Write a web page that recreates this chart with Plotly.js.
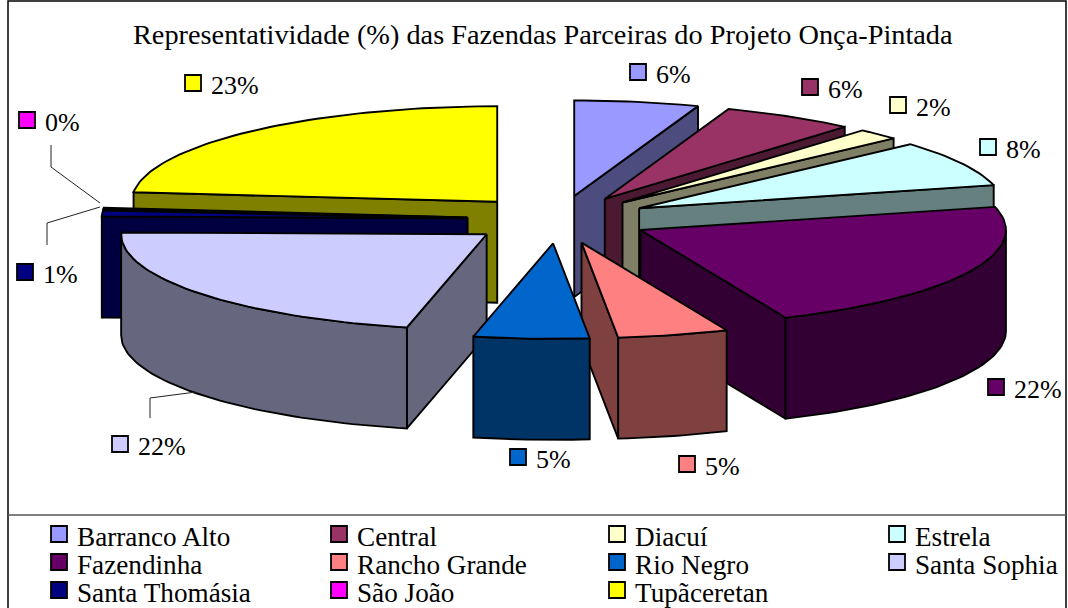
<!DOCTYPE html>
<html><head><meta charset="utf-8">
<script src="https://cdn.plot.ly/plotly-3.0.1.min.js"></script>
<style>html,body{margin:0;padding:0;background:#fff;overflow:hidden}</style>
</head><body><div id="chart" style="width:1068px;height:608px"></div>
<script>
// ---- data ----
const categories = ['Barranco Alto','Central','Diacuí','Estrela','Fazendinha','Rancho Grande','Rio Negro','Santa Sophia','Santa Thomásia','São João','Tupãceretan'];
const shares = [5.5,5.9,1.9,7.8,22.4,4.9,5.1,21.8,1.0,0.3,23.4];
const colors = ['#9999FF','#993366','#FFFFCC','#CCFFFF','#660066','#FF8080','#0066CC','#CCCCFF','#000080','#FF00FF','#FFFF00'];
const chartTitle = 'Representatividade (%) das Fazendas Parceiras do Projeto Onça-Pintada';

// ---- layout constants ----
const W = 1068, H = 608;
const FONT = '"Liberation Serif","Times New Roman",serif';
const pie = {cx:558.5, cy:219.5, rx:365.5, ry:95.5, depth:101, explode:0.25};
const drawOrder = [10,9,8,7,0,1,2,3,4,5,6];
const labelKeys = [[638,72],[810,87],[898,105],[988,147],[996,387],[687,464],[518,457],[120,444],[25,272],[27,120],[193,83]];
const legendCols = [59,339,617,897], legendRows = [534,562,590];
const leaders = [[[51,145],[51,167],[100,203]],[[47,245],[47,223],[100,207]],[[150,418],[150,398],[196,392]]];

const rad = d => d*Math.PI/180;
const shade = hex => '#'+[1,3,5].map(i=>Math.floor(parseInt(hex.substr(i,2),16)/2).toString(16).padStart(2,'0')).join('');

const total = shares.reduce((a,b)=>a+b,0);
let acc = 0;
const slices = shares.map((v,i)=>{const a=acc/total*360; acc+=v; const b=acc/total*360;
  const mid=rad((a+b)/2);
  return {i,a,b,ox:pie.cx+pie.explode*pie.rx*Math.sin(mid),oy:pie.cy-pie.explode*pie.ry*Math.cos(mid)};});
const rim = (s,t,dz=0)=>[s.ox+pie.rx*Math.sin(rad(t)), s.oy-pie.ry*Math.cos(rad(t))+dz];
const arc = (s,from,to,dz=0)=>{const n=Math.max(2,Math.ceil(Math.abs(to-from)/1.5));const p=[];for(let k=0;k<=n;k++)p.push(rim(s,from+(to-from)*k/n,dz));return p;};

const traces=[];
function poly(pts,fill,lw){
  pts=pts.concat([pts[0]]);
  traces.push({type:'scatter',mode:'lines',x:pts.map(p=>p[0]),y:pts.map(p=>p[1]),fill:'toself',fillcolor:fill,
    line:{color:'#000',width:lw===undefined?1.9:lw,shape:'linear'},hoverinfo:'skip',showlegend:false});
}
drawOrder.forEach(idx=>{
  const s=slices[idx], top=colors[idx], side=shade(top), d=pie.depth, O=[s.ox,s.oy], Od=[s.ox,s.oy+d];
  if(Math.sin(rad(s.a))<0){const r=rim(s,s.a),rd=rim(s,s.a,d);poly([O,r,rd,Od],side);}
  if(Math.sin(rad(s.b))>0){const r=rim(s,s.b),rd=rim(s,s.b,d);poly([O,r,rd,Od],side);}
  const f=Math.max(s.a,90), t=Math.min(s.b,270);
  if(t>f){poly(arc(s,f,t).concat(arc(s,t,f,d)),side);}
  poly([O].concat(arc(s,s.a,s.b)),top);
});
leaders.forEach(l=>traces.push({type:'scatter',mode:'lines',x:l.map(p=>p[0]),y:l.map(p=>p[1]),line:{color:'#222',width:1},hoverinfo:'skip',showlegend:false}));

// keys
const legendX=categories.map((_,i)=>legendCols[i%4]), legendY=categories.map((_,i)=>legendRows[Math.floor(i/4)]);
traces.push({type:'scatter',mode:'markers',x:labelKeys.map(p=>p[0]),y:labelKeys.map(p=>p[1]),
  marker:{symbol:'square',size:16,color:colors,line:{color:'#000',width:1.8}},hoverinfo:'skip',showlegend:false});
traces.push({type:'scatter',mode:'markers',x:legendX,y:legendY,
  marker:{symbol:'square',size:16,color:colors,line:{color:'#000',width:1.8}},hoverinfo:'skip',showlegend:false});

const ann=[];
const txt=(x,y,text,size,anchor)=>ann.push({x,y,xref:'x',yref:'y',text,showarrow:false,xanchor:anchor||'left',yanchor:'middle',
  font:{family:FONT,size,color:'#000'},borderpad:0,borderwidth:0});
txt(543,34,chartTitle,28.3,'center');
shares.forEach((v,i)=>txt(labelKeys[i][0]+18,labelKeys[i][1]+2,Math.round(v)+'%',26));
categories.forEach((c,i)=>txt(legendX[i]+18,legendY[i]+3,c,27.2));

Plotly.newPlot('chart',traces,{
  width:W,height:H,margin:{l:0,r:0,t:0,b:0,pad:0},paper_bgcolor:'#fff',plot_bgcolor:'#fff',showlegend:false,
  xaxis:{range:[0,W],visible:false,fixedrange:true},
  yaxis:{range:[H,0],visible:false,fixedrange:true},
  annotations:ann,
  shapes:[
    {type:'rect',xref:'x',yref:'y',x0:8,y0:1,x1:1066,y1:620,line:{color:'#000',width:1.5},layer:'below'},
    {type:'line',xref:'x',yref:'y',x0:8,y0:515,x1:1066,y1:515,line:{color:'#555',width:1.5},layer:'below'}
  ]
},{staticPlot:true,displayModeBar:false});
</script></body></html>
